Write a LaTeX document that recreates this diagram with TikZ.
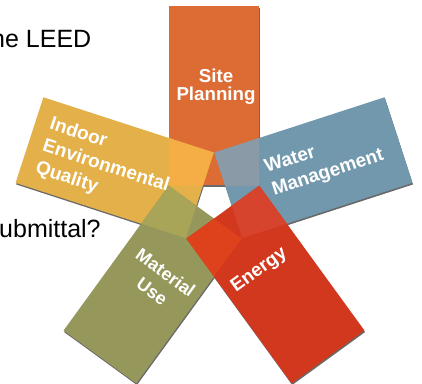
\documentclass[tikz,border=0pt]{standalone}
\usepackage{fontspec}
\setmainfont{Liberation Sans}
\usepackage{tikz}
\usetikzlibrary{calc}
\usetikzlibrary{positioning}

\definecolor{siteorange}{RGB}{221,108,52}
\definecolor{indoorgold}{RGB}{227,176,74}
\definecolor{waterblue}{RGB}{113,152,173}
\definecolor{materialolive}{RGB}{150,152,91}
\definecolor{energyred}{RGB}{210,56,30}
\definecolor{siteindoor}{RGB}{245,173,70}
\definecolor{sitewater}{RGB}{138,154,167}
\definecolor{indoormaterial}{RGB}{168,165,88}
\definecolor{waterenergy}{RGB}{214,68,46}
\definecolor{materialenergy}{RGB}{222,66,28}
\definecolor{leafshadow}{RGB}{105,105,105}

\begin{document}
\begin{tikzpicture}[x=1pt, y=-1pt,
petal/.style={shift={(214,200)},rotate=#1},
lbl/.style 2 args={text=white,inner sep=0pt,font=\bfseries\fontsize{#1}{#2}\selectfont},
slide/.style={text=black,inner sep=0pt,anchor=base west,font=\fontsize{25}{30}\selectfont}]

\useasboundingbox (0,0) rectangle (422,383);
\def\leaf{(-45,-15) rectangle (45,-194)}

% shadow under the leaves
\foreach \a in {0,72,-72,144,-144}
  \fill[leafshadow, shift={(0.6,1.6)}, petal=\a] \leaf;

\fill[siteorange, petal=0] \leaf;
\fill[indoorgold, petal=72] \leaf;
\fill[waterblue, petal=-72] \leaf;
\fill[materialolive, petal=144] \leaf;
\fill[energyred, petal=-144] \leaf;

% overlaps
\begin{scope}
\clip[petal=0] \leaf;
\fill[siteindoor, petal=72] \leaf;
\fill[sitewater, petal=-72] \leaf;
\end{scope}
\begin{scope}
\clip[petal=144] \leaf;
\fill[indoormaterial, petal=72] \leaf;
\fill[materialenergy, petal=-144] \leaf;
\end{scope}
\begin{scope}
\clip[petal=-72] \leaf;
\fill[waterenergy, petal=-144] \leaf;
\end{scope}

% labels
\node [lbl={18.7}{18.5}, align=center] (site) at (216,86.5) {Site\\Planning};
\node [lbl={19}{23}, align=left, anchor=west, rotate=-18] (indoor) at (43,146) {Indoor\\Environmental\\Quality};
\node [lbl={19}{24}, align=left, anchor=west, rotate=18] (water) at (269,180) {Water\\Management};
\node [lbl={18}{23}, align=center, rotate=-36] (material) at (159,282) {Material\\Use};
\node [lbl={18.8}{20}, anchor=base, rotate=36] (energy) at (262,274) {Energy};

% slide text
\node [slide] (leed) at (-9,47) {he LEED};
\node [slide] (submittal) at (-1,237) {ubmittal?};
\end{tikzpicture}
\end{document}
